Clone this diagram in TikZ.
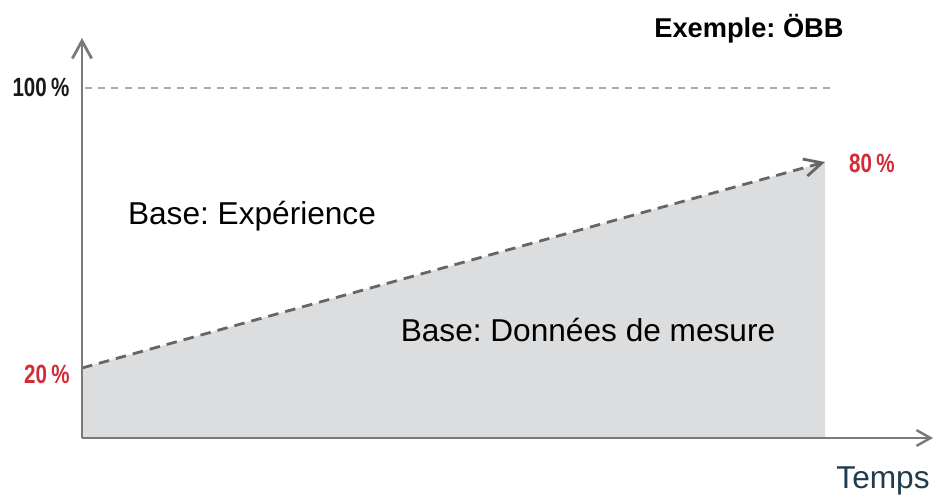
\documentclass[tikz,border=0pt]{standalone}
\usepackage{fontspec}
\setmainfont{Liberation Sans}
\newfontfamily\pctfont[FakeStretch=0.78]{Liberation Sans}
\usetikzlibrary{arrows.meta,positioning}
\definecolor{axisgray}{HTML}{7A7A7A}
\definecolor{dashgray}{HTML}{666666}
\definecolor{linegray}{HTML}{ABABAB}
\definecolor{fillgray}{HTML}{DCDDDF}
\definecolor{pctred}{HTML}{D42A36}
\definecolor{tempsblue}{HTML}{1F3B4D}
\frenchspacing

\begin{document}
\begin{tikzpicture}
[
	x=0.02cm, y=0.02cm,
	axis/.style={draw=axisgray,line width=1.6pt},
	pct/.style={font=\pctfont\bfseries\fontsize{15}{15}\selectfont},
	lbl/.style={font=\fontsize{18}{18}\selectfont},
]
	\useasboundingbox (0,0) rectangle (935,497);

	\coordinate (O) at (82,59);
	\coordinate (ytip) at (82,459);
	\coordinate (xtip) at (933,59);
	\coordinate (s20) at (82,129);
	\coordinate (e80) at (825,335);
	\coordinate (e0) at (825,59);
	\coordinate (h100a) at (85,409);
	\coordinate (h100b) at (832,409);

	\fill[fillgray] (O) -- (s20) -- (e80) -- (e0) -- cycle;

	\draw[linegray,line width=1.1pt,dash pattern=on 4pt off 3.5pt] (h100a) -- (h100b);
	\draw[dashgray,line width=1.6pt,dash pattern=on 6pt off 4pt,
		-{Straight Barb[length=10pt,width=10pt,line width=1.6pt]}] (s20) -- (e80);

	\draw[axis,-{Straight Barb[length=10pt,width=11pt,line width=1.6pt]}] (O) -- (ytip);
	\draw[axis,-{Straight Barb[length=8pt,width=9pt,line width=1.4pt]}] (O) -- (xtip);

	\node[pct,text=black!90] (p100) at (41,410) {100\,\%};
	\node[pct,text=pctred] (p20) at (47,123) {20\,\%};
	\node[pct,text=pctred] (p80) at (872,334) {80\,\%};

	\node[font=\bfseries\fontsize{15.5}{15.5}\selectfont] (ex) at (749,468) {Exemple: ÖBB};
	\node[lbl] (exp) at (252,281) {Base: Expérience};
	\node[lbl] (mes) at (588,167) {Base: Données de mesure};
	\node[lbl,text=tempsblue] (temps) at (883,16) {Temps};
\end{tikzpicture}
\end{document}
